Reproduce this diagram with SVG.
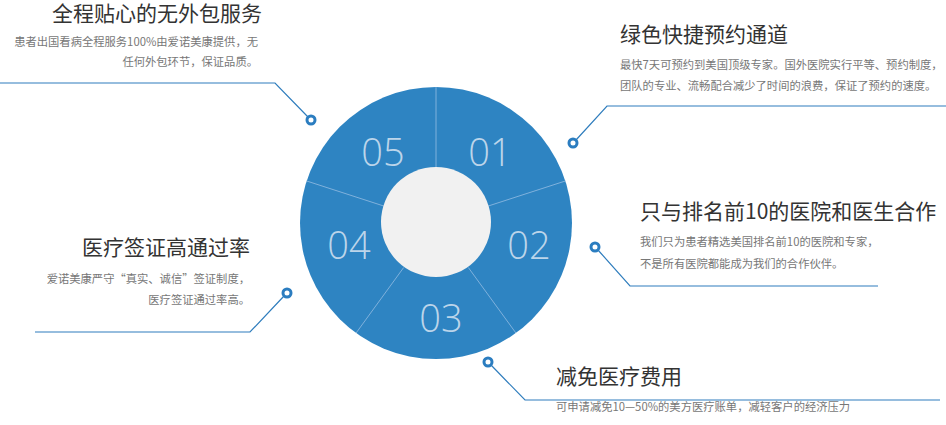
<svg xmlns="http://www.w3.org/2000/svg" width="946" height="425" viewBox="0 0 946 425">
<style>
.t{font-family:"Noto Sans CJK SC","Noto Sans",sans-serif;font-size:21px;fill:#333}
.d{font-family:"Noto Sans CJK SC","Noto Sans",sans-serif;font-size:11.3px;fill:#777}
.n{font-family:"Open Sans","Noto Sans",sans-serif;font-size:38px;fill:#bcd5ea;text-anchor:middle;font-weight:300}
.c{fill:none;stroke:#2f7dbd;stroke-width:1.2}
.r{fill:#fff;stroke:#2b7dc0;stroke-width:3}
.s{stroke:#7fb1dc;stroke-width:1}
</style>
<rect width="946" height="425" fill="#fff"/>
<g id="wheel">
<circle cx="436" cy="223" r="136" fill="#2e84c2"/>
<line class="s" x1="436" y1="168" x2="436" y2="87"/>
<line class="s" x1="488.3" y1="206" x2="565.3" y2="181"/>
<line class="s" x1="468.3" y1="267.5" x2="515.9" y2="333"/>
<line class="s" x1="403.7" y1="267.5" x2="356.1" y2="333"/>
<line class="s" x1="383.7" y1="206" x2="306.7" y2="181"/>
<circle cx="436" cy="222" r="55" fill="#f1f1f1"/>
<text class="n" x="383" y="166">05</text>
<text class="n" x="490" y="166">01</text>
<text class="n" x="529" y="259">02</text>
<text class="n" x="441" y="332">03</text>
<text class="n" x="349" y="259">04</text>
</g>
<g id="connectors">
<polyline class="c" points="0,83 275,83 308,117"/>
<polyline class="c" points="576,140 607,106 946,106"/>
<polyline class="c" points="598,250 630,286 878,286"/>
<polyline class="c" points="491,365 525,400 940,400"/>
<polyline class="c" points="35,332 250,332 284,296"/>
<circle class="r" cx="311" cy="120" r="4"/>
<circle class="r" cx="573" cy="143" r="4"/>
<circle class="r" cx="595" cy="247" r="4"/>
<circle class="r" cx="488" cy="362" r="4"/>
<circle class="r" cx="287" cy="293" r="4"/>
</g>
<g id="n05" text-anchor="end">
<text class="t" x="262" y="21">全程贴心的无外包服务</text>
<text class="d" x="258" y="46">患者出国看病全程服务100%由爱诺美康提供，无</text>
<text class="d" x="258" y="66">任何外包环节，保证品质。</text>
</g>
<g id="n01">
<text class="t" x="620" y="42">绿色快捷预约通道</text>
<text class="d" x="620" y="69">最快7天可预约到美国顶级专家。国外医院实行平等、预约制度，</text>
<text class="d" x="620" y="90">团队的专业、流畅配合减少了时间的浪费，保证了预约的速度。</text>
</g>
<g id="n02">
<text class="t" x="640" y="219">只与排名前10的医院和医生合作</text>
<text class="d" x="640" y="246">我们只为患者精选美国排名前10的医院和专家，</text>
<text class="d" x="640" y="268">不是所有医院都能成为我们的合作伙伴。</text>
</g>
<g id="n03">
<text class="t" x="556" y="384">减免医疗费用</text>
<text class="d" x="556" y="411">可申请减免10—50%的美方医疗账单，减轻客户的经济压力</text>
</g>
<g id="n04" text-anchor="end">
<text class="t" x="250" y="255">医疗签证高通过率</text>
<text class="d" x="250" y="283">爱诺美康严守“真实、诚信”签证制度，</text>
<text class="d" x="250" y="304">医疗签证通过率高。</text>
</g>
</svg>
